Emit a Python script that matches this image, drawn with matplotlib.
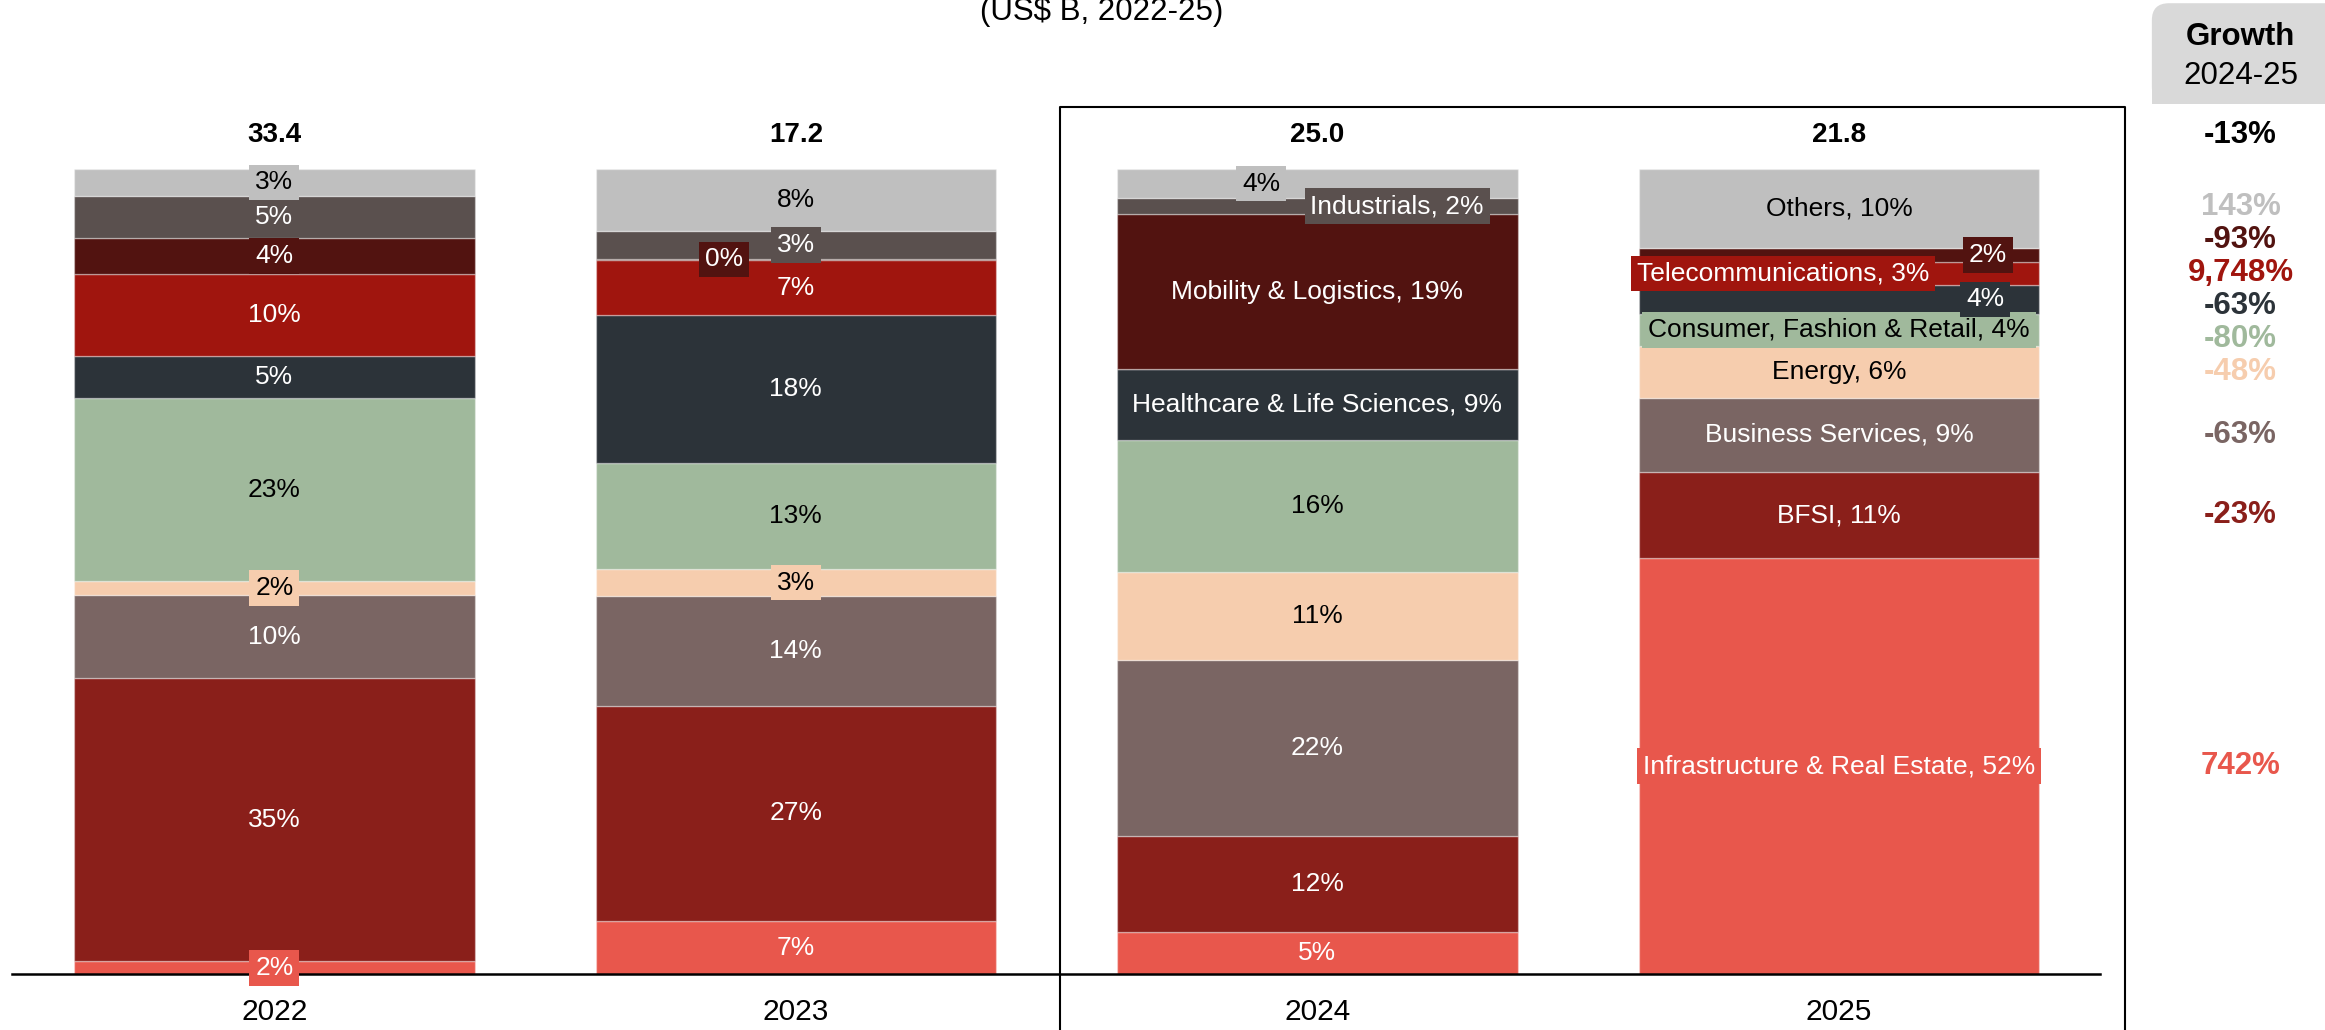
import numpy as np
import matplotlib.pyplot as plt
from matplotlib.patches import Rectangle, FancyBboxPatch

plt.rcParams['font.family'] = ['Liberation Sans', 'DejaVu Sans']

years = ['2022', '2023', '2024', '2025']
totals = [33.4, 17.2, 25.0, 21.8]

# categories from the bottom of the stack to the top
categories = ['Infrastructure & Real Estate', 'BFSI', 'Business Services', 'Energy',
              'Consumer, Fashion & Retail', 'Healthcare & Life Sciences',
              'Telecommunications', 'Mobility & Logistics', 'Industrials', 'Others']

# share of each year's total (%)
infra = [1.6, 6.6, 5.3, 51.7]
bfsi = [35.2, 26.7, 11.8, 10.7]
business = [10.3, 13.6, 21.9, 9.3]
energy = [1.8, 3.4, 10.9, 6.4]
consumer = [22.7, 13.1, 16.4, 4.0]
health = [5.2, 18.4, 8.8, 3.6]
telecom = [10.3, 6.8, 0.03, 2.8]
mobility = [4.4, 0.2, 19.2, 1.8]
industrials = [5.3, 3.4, 2.0, 0.0]
others = [3.3, 7.7, 3.6, 9.8]

growth = ['742%', '-23%', '-63%', '-48%', '-80%', '-63%', '9,748%', '-93%', None, '143%']
total_growth = '-13%'

shares = np.array([infra, bfsi, business, energy, consumer, health,
                   telecom, mobility, industrials, others])

colors = ['#E8574C', '#8A1F1A', '#7A6563', '#F6CDAE', '#A0B99C', '#2C3339',
          '#A0150E', '#521310', '#5A504E', '#BFBFBF']
dark_text = ['Energy', 'Consumer, Fashion & Retail', 'Others']

# which segments get the category name in their label
named = {2: ['Healthcare & Life Sciences', 'Mobility & Logistics', 'Industrials'],
         3: ['Infrastructure & Real Estate', 'BFSI', 'Business Services', 'Energy',
             'Consumer, Fashion & Retail', 'Telecommunications', 'Others']}
# sideways shifts for labels of thin segments
x_nudge = {(1, 'Mobility & Logistics'): -0.138, (2, 'Others'): -0.108,
           (2, 'Industrials'): 0.153, (3, 'Telecommunications'): -0.107,
           (3, 'Mobility & Logistics'): 0.286, (3, 'Healthcare & Life Sciences'): 0.280}

FS = 19      # labels inside the bars
FS_BIG = 22.5  # title and growth column
fig = plt.figure(figsize=(23.25, 10.3), dpi=100)
ax = fig.add_axes([0, 0, 1, 1])
ax.set_xlim(-0.526, 3.932)
ax.set_ylim(-6.93, 121.0)
ax.axis('off')

x = np.arange(len(years))
heights = shares / shares.sum(axis=0) * 100
bottom = np.zeros(len(years))
for i, cat in enumerate(categories):
    ax.bar(x, heights[i], bottom=bottom, width=0.768, color=colors[i],
           edgecolor=(1, 1, 1, 0.35), linewidth=1, zorder=2)
    for j in range(len(years)):
        if shares[i, j] < 0.1:
            continue
        pct = f"{round(shares[i, j]):.0f}%"
        txt = f"{cat}, {pct}" if cat in named.get(j, []) else pct
        ax.text(x[j] + x_nudge.get((j, cat), 0), bottom[j] + heights[i, j] / 2, txt,
                ha='center', va='center', fontsize=FS,
                color='black' if cat in dark_text else 'white', zorder=5,
                bbox=dict(boxstyle='square,pad=0.22', fc=colors[i], ec='none'))
    bottom += heights[i]

# baseline
ax.plot([-0.503, 3.501], [0, 0], color='black', lw=1.8, zorder=4)

# totals and years
for j in range(len(years)):
    ax.text(x[j], 104.2, f"{totals[j]:.1f}", ha='center', va='center',
            fontsize=20, fontweight='bold')
    ax.text(x[j], -4.75, years[j], ha='center', va='center', fontsize=21.5)

ax.text(1.587, 118.5, '(US$ B, 2022-25)', ha='center', va='baseline', fontsize=FS_BIG)

# frame around 2024-25
ax.plot([1.507, 1.507, 3.549, 3.549], [-8, 107.7, 107.7, -8], color='black',
        lw=1.5, zorder=4, clip_on=False)

# growth column header
ax.add_patch(FancyBboxPatch((3.600, 108.1), 0.5, 12.5,
                            boxstyle='round,pad=0,rounding_size=0.033',
                            mutation_aspect=64, fc='#D9D9D9', ec='none'))
ax.add_patch(Rectangle((3.600, 108.1), 0.5, 5, fc='#D9D9D9', ec='none'))
ax.text(3.770, 116.4, 'Growth', ha='center', va='center', fontsize=FS_BIG,
        fontweight='bold')
ax.text(3.770, 111.6, '2024-25', ha='center', va='center', fontsize=FS_BIG)
ax.text(3.770, 104.2, total_growth, ha='center', va='center', fontsize=FS_BIG,
        fontweight='bold', color='black')

# growth labels at 2025 segment centres, spread so they do not collide
cum = np.concatenate([[0], np.cumsum(heights[:, 3])])
centres = (cum[:-1] + cum[1:]) / 2
idx = [i for i in range(len(categories)) if growth[i] is not None]
idx = sorted(idx, key=lambda i: -centres[i])
pos = [centres[i] for i in idx]
gap = 4.1
for _ in range(200):
    for k in range(len(pos) - 1):
        d = pos[k] - pos[k + 1]
        if d < gap:
            s = (gap - d) / 2
            pos[k] += s
            pos[k + 1] -= s
for i, p in zip(idx, pos):
    ax.text(3.770, p, growth[i], ha='center', va='center', fontsize=FS_BIG,
            fontweight='bold', color=colors[i])

fig.savefig('out.png', dpi=100)
